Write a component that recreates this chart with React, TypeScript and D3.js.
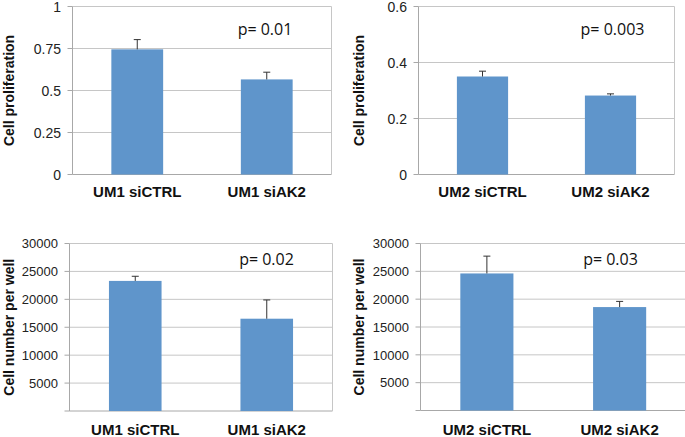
import React from "react";
import * as d3 from "d3";

const categoriesUM1 = ["UM1 siCTRL", "UM1 siAK2"];
const categoriesUM2 = ["UM2 siCTRL", "UM2 siAK2"];

const prolifUM1 = [0.745, 0.566];
const prolifUM1Err = [0.058, 0.043];
const prolifUM2 = [0.35, 0.282];
const prolifUM2Err = [0.019, 0.006];

const countUM1 = [23300, 16530];
const countUM1Err = [830, 3360];
const countUM2 = [24620, 18580];
const countUM2Err = [3110, 1020];

const prolifUM1Ticks = [0, 0.25, 0.5, 0.75, 1];
const prolifUM1Labels = ["0", "0.25", "0.5", "0.75", "1"];
const prolifUM2Ticks = [0, 0.2, 0.4, 0.6];
const prolifUM2Labels = ["0", "0.2", "0.4", "0.6"];
const countTicks = [0, 5000, 10000, 15000, 20000, 25000, 30000];
const countLabels = ["", "5000", "10000", "15000", "20000", "25000", "30000"];

const pValues = ["p= 0.01", "p= 0.003", "p= 0.02", "p= 0.03"];
const yTitles = ["Cell proliferation", "Cell number per well"];

const BAR = "#5f95cb";
const GRID = "#c6c6c6";
const AXIS = "#a8a8a8";

type PanelProps = {
  left: number; right: number; top: number; bottom: number;
  yMax: number; ticks: number[]; tickLabels: string[]; tickSize: number;
  cats: string[]; values: number[]; errs: number[];
  p: string; pX: number; pY: number;
  title: string; titleX: number; catY: number; rightBorder: boolean;
};

function Panel(props: PanelProps) {
  const { left, right, top, bottom, yMax, ticks, tickLabels, tickSize, cats, values, errs, p, pX, pY, title, titleX, catY, rightBorder } = props;
  const y = d3.scaleLinear().domain([0, yMax]).range([bottom, top]);
  const x = d3.scaleBand<string>().domain(cats).range([left, right]).paddingInner(0.6).paddingOuter(0.3);
  const bw = x.bandwidth();
  return (
    <g>
      {ticks.map((t, i) => (
        <line key={"g" + i} x1={left} x2={right} y1={y(t)} y2={y(t)} stroke={i === 0 ? AXIS : GRID} strokeWidth={1} />
      ))}
      <line x1={left} x2={left} y1={top} y2={bottom} stroke={AXIS} strokeWidth={1} />
      {rightBorder && <line x1={right} x2={right} y1={top} y2={bottom} stroke={GRID} strokeWidth={1} />}
      {ticks.map((t, i) => (
        <line key={"t" + i} x1={left - 5} x2={left} y1={y(t)} y2={y(t)} stroke={AXIS} strokeWidth={1} />
      ))}
      {ticks.map((t, i) => (
        <text key={"l" + i} x={left - 11.5} y={y(t)} dy="0.36em" textAnchor="end" fontFamily="Liberation Sans, Arial, sans-serif" fontSize={tickSize} fill="#222">{tickLabels[i]}</text>
      ))}
      {cats.map((c, i) => (
        <g key={"b" + i}>
          <rect x={x(c)!} y={y(values[i])} width={bw} height={bottom - y(values[i])} fill={BAR} />
          <line x1={x(c)! + bw / 2} x2={x(c)! + bw / 2} y1={y(values[i])} y2={y(values[i] + errs[i])} stroke="#333" strokeWidth={1} />
          <line x1={x(c)! + bw / 2 - 3.5} x2={x(c)! + bw / 2 + 3.5} y1={y(values[i] + errs[i])} y2={y(values[i] + errs[i])} stroke="#333" strokeWidth={1} />
          <text x={x(c)! + bw / 2} y={catY} textAnchor="middle" fontFamily="Liberation Sans, Arial, sans-serif" fontWeight="bold" fontSize={15} fill="#111">{c}</text>
        </g>
      ))}
      <text x={pX} y={pY} textAnchor="middle" fontFamily="Open Sans, sans-serif" fontSize={16} fill="#111">{p}</text>
      <text transform={`translate(${titleX},${(top + bottom) / 2}) rotate(-90)`} textAnchor="middle" dy="0.35em" fontFamily="Liberation Sans, Arial, sans-serif" fontWeight="bold" fontSize={14} fill="#111">{title}</text>
    </g>
  );
}

export default function App() {
  return (
    <svg width={685} height={437} style={{ position: "absolute", left: 0, top: 0, background: "#fff" }}>
      <rect width={685} height={437} fill="#fff" />
      <Panel left={72.5} right={331.5} top={6.5} bottom={174.5} yMax={1} ticks={prolifUM1Ticks} tickLabels={prolifUM1Labels} tickSize={14}
        cats={categoriesUM1} values={prolifUM1} errs={prolifUM1Err} p={pValues[0]} pX={265} pY={35} title={yTitles[0]} titleX={9.5} catY={197} rightBorder={true} />
      <Panel left={418.5} right={674.5} top={6.5} bottom={174.5} yMax={0.6} ticks={prolifUM2Ticks} tickLabels={prolifUM2Labels} tickSize={14}
        cats={categoriesUM2} values={prolifUM2} errs={prolifUM2Err} p={pValues[1]} pX={612.5} pY={35} title={yTitles[0]} titleX={359.5} catY={197} rightBorder={true} />
      <Panel left={69.5} right={332.5} top={243.5} bottom={411} yMax={30000} ticks={countTicks} tickLabels={countLabels} tickSize={13}
        cats={categoriesUM1} values={countUM1} errs={countUM1Err} p={pValues[2]} pX={266.5} pY={264.5} title={yTitles[1]} titleX={9.5} catY={435} rightBorder={true} />
      <Panel left={420.5} right={686} top={243.5} bottom={410.5} yMax={30000} ticks={countTicks} tickLabels={countLabels} tickSize={13}
        cats={categoriesUM2} values={countUM2} errs={countUM2Err} p={pValues[3]} pX={610.5} pY={265} title={yTitles[1]} titleX={359.5} catY={435} rightBorder={false} />
    </svg>
  );
}
